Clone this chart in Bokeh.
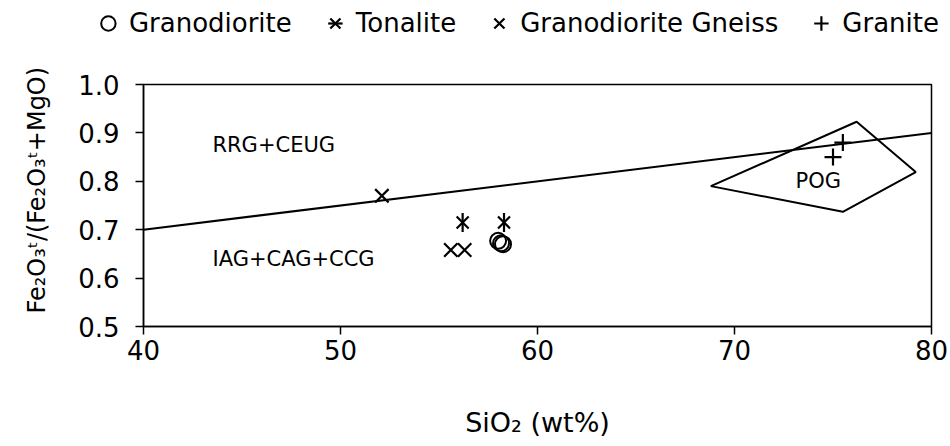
import math
from bokeh.plotting import figure
from bokeh.layouts import column
from bokeh.models import (FixedTicker, PrintfTickFormatter, Legend, LegendItem,
                          Range1d, LabelSet, ColumnDataSource)
from bokeh.embed import file_html
from bokeh.resources import INLINE
from bokeh.core.properties import value

# ---------------- data ----------------
grano_x = [58.0, 58.15, 58.25]
grano_y = [0.677, 0.672, 0.670]

tonal_x = [56.2, 58.3]
tonal_y = [0.715, 0.715]

gneiss_x = [52.1, 55.6, 56.3]
gneiss_y = [0.770, 0.658, 0.658]

granite_x = [75.5, 75.0]
granite_y = [0.880, 0.850]

line_x = [40, 80]
line_y = [0.70, 0.90]

pog_x = [68.8, 76.2, 79.2, 75.5, 68.8]
pog_y = [0.790, 0.923, 0.819, 0.737, 0.790]

field_labels = ["RRG+CEUG", "IAG+CAG+CCG", "POG"]
field_x = [43.5, 43.5, 73.1]
field_y = [0.876, 0.640, 0.800]

series_names = ["Granodiorite", "Tonalite", "Granodiorite Gneiss", "Granite"]

x_ticks = [40, 50, 60, 70, 80]
y_ticks = [0.5, 0.6, 0.7, 0.8, 0.9, 1.0]

FONT = "DejaVu Sans"

STYLE = {
    "gd": dict(marker="circle", size=16, fill_color=None, line_color="black", line_width=2),
    "t1": dict(marker="x", size=17, line_color="black", line_width=2.2),
    "t2": dict(marker="dash", angle=math.pi / 2, size=19, line_color="black", line_width=2.2),
    "gn": dict(marker="x", size=19, line_color="black", line_width=2.2),
    "gr": dict(marker="cross", size=17, line_color="black", line_width=2.2),
}

# ---------------- main chart ----------------
p = figure(width=950, height=400, output_backend="svg", toolbar_location=None,
           x_range=Range1d(40, 80), y_range=Range1d(0.5, 1.0),
           min_border_left=143, min_border_right=19,
           min_border_top=38, min_border_bottom=120)
p.frame_align = False
p.xgrid.visible = False
p.ygrid.visible = False
p.outline_line_color = "black"
p.outline_line_width = 1.5
p.background_fill_color = "white"
p.border_fill_color = "white"

for ax in (p.xaxis[0], p.yaxis[0]):
    ax.axis_line_color = "black"
    ax.axis_line_width = 1.5
    ax.major_tick_line_color = "black"
    ax.major_tick_line_width = 1.5
    ax.major_tick_out = 8
    ax.major_tick_in = 0
    ax.minor_tick_line_color = None
    ax.major_label_text_font = FONT
    ax.major_label_text_font_size = "26px"
    ax.major_label_text_color = "black"
    ax.axis_label_text_font = FONT
    ax.axis_label_text_font_style = "normal"
    ax.axis_label_text_color = "black"

p.xaxis.ticker = FixedTicker(ticks=x_ticks)
p.yaxis.ticker = FixedTicker(ticks=y_ticks)
p.yaxis.formatter = PrintfTickFormatter(format="%.1f")
p.xaxis.major_label_standoff = 5
p.yaxis.major_label_standoff = 16
p.xaxis.axis_label = "SiO\u2082 (wt%)"
p.yaxis.axis_label = "\u00a0\u00a0\u00a0\u00a0Fe\u2082O\u2083\u1d57/(Fe\u2082O\u2083\u1d57+MgO)"
p.xaxis.axis_label_text_font_size = "27px"
p.yaxis.axis_label_text_font_size = "24px"
p.xaxis.axis_label_standoff = 44
p.yaxis.axis_label_standoff = 24

# discrimination line and POG field
p.line(line_x, line_y, line_color="black", line_width=2)
p.patch(pog_x, pog_y, fill_alpha=0, line_color="black", line_width=2)

# samples
p.scatter(grano_x, grano_y, **STYLE["gd"])
p.scatter(tonal_x, tonal_y, **STYLE["t1"])
p.scatter(tonal_x, tonal_y, **STYLE["t2"])
p.scatter(gneiss_x, gneiss_y, **STYLE["gn"])
p.scatter(granite_x, granite_y, **STYLE["gr"])

src = ColumnDataSource(dict(x=field_x, y=field_y, t=field_labels))
p.add_layout(LabelSet(x="x", y="y", text="t", source=src, text_font=value(FONT),
                      text_font_size="21px", text_color="black",
                      text_baseline="middle", text_align="left"))

# ---------------- legend strip above the chart ----------------
# (same series, drawn off-range so only the legend entries are visible)
lg = figure(width=944, height=46, output_backend="svg", toolbar_location=None,
            x_range=Range1d(0, 1), y_range=Range1d(0, 1),
            x_axis_type=None, y_axis_type=None,
            min_border_left=0, min_border_right=0, min_border_top=0, min_border_bottom=0)
lg.frame_align = False
lg.xgrid.visible = False
lg.ygrid.visible = False
lg.outline_line_color = None
lg.background_fill_color = "white"
lg.border_fill_color = "white"

l_gd = lg.scatter(grano_x, grano_y, **STYLE["gd"])
l_t1 = lg.scatter(tonal_x, tonal_y, **STYLE["t1"])
l_t2 = lg.scatter(tonal_x, tonal_y, **STYLE["t2"])
l_gn = lg.scatter(gneiss_x, gneiss_y, **STYLE["gn"])
l_gr = lg.scatter(granite_x, granite_y, **STYLE["gr"])

legend = Legend(items=[
    LegendItem(label=series_names[0], renderers=[l_gd]),
    LegendItem(label=series_names[1], renderers=[l_t1, l_t2]),
    LegendItem(label=series_names[2], renderers=[l_gn]),
    LegendItem(label=series_names[3], renderers=[l_gr]),
], orientation="horizontal", location="top_right")
legend.label_text_font = FONT
legend.label_text_font_size = "26px"
legend.label_text_color = "black"
legend.glyph_width = 38
legend.glyph_height = 36
legend.label_standoff = 2
legend.spacing = 24
legend.padding = 0
legend.margin = 5
legend.border_line_color = None
legend.background_fill_alpha = 0
lg.add_layout(legend, "center")

layout = column(lg, p, spacing=0)
open("out.html", "w").write(file_html(layout, INLINE))
